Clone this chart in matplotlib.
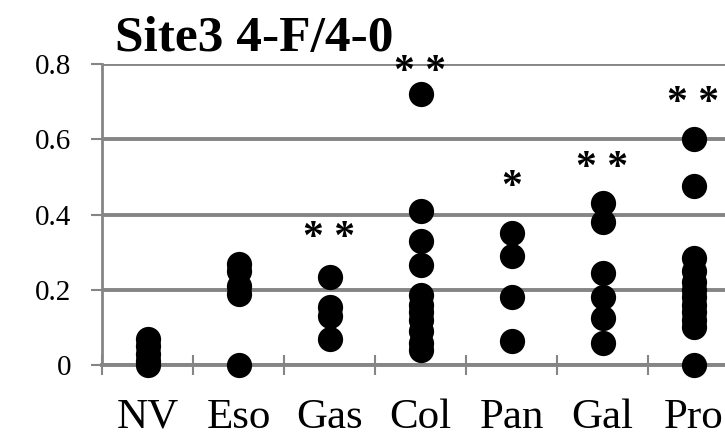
import matplotlib
matplotlib.use("Agg")
import matplotlib.pyplot as plt
import numpy as np

# -------------------------
# データ
# -------------------------
categories = ["NV", "Eso", "Gas", "Col", "Pan", "Gal", "Pro"]
nv = [0, 0.01, 0.03, 0.05, 0.07]
eso = [0, 0.19, 0.21, 0.25, 0.27]
gas = [0.07, 0.13, 0.155, 0.235]
col = [0.04, 0.06, 0.09, 0.12, 0.14, 0.16, 0.185, 0.265, 0.33, 0.41, 0.72]
pan = [0.065, 0.18, 0.29, 0.35]
gal = [0.06, 0.125, 0.18, 0.245, 0.38, 0.43]
pro = [0, 0.10, 0.12, 0.14, 0.16, 0.18, 0.20, 0.22, 0.25, 0.285, 0.475, 0.60]
groups = [nv, eso, gas, col, pan, gal, pro]
stars = ["", "", "* *", "* *", "*", "* *", "* *"]
star_y = [None, None, 0.335, 0.775, 0.47, 0.52, 0.695]
yticks = [0, 0.2, 0.4, 0.6, 0.8]
ytick_labels = ["0", "0.2", "0.4", "0.6", "0.8"]

# -------------------------
# 描画
# -------------------------
plt.rcParams["font.family"] = ["Liberation Serif", "DejaVu Serif"]
grey = "#858585"

fig = plt.figure(figsize=(7.25, 4.42), dpi=100)
ax = fig.add_axes([0.1407, 0.174, 0.8593, 0.681])

for i, vals in enumerate(groups):
    ax.scatter([i + 0.5] * len(vals), vals, s=330, color="black",
               zorder=3, clip_on=False, linewidths=0)
    if stars[i]:
        ax.text(i + 0.5, star_y[i], stars[i], ha="center", va="center",
                fontsize=30, fontweight="bold", zorder=4)

ax.set_xlim(0, 6.846)
ax.set_ylim(0, 0.8)
ax.set_yticks(yticks)
ax.set_yticklabels(ytick_labels, fontsize=21)
ax.set_xticks(np.arange(0, 7))
ax.set_xticklabels([])
ax.set_xticks(np.arange(len(categories)) + 0.5, minor=True)
ax.set_xticklabels(categories, minor=True, fontsize=31)
ax.tick_params(axis="x", which="minor", length=0, pad=24)
ax.tick_params(axis="x", which="major", direction="inout", length=14,
               color=grey, width=1.5)
ax.tick_params(axis="y", direction="out", length=8, color=grey, width=1.5, pad=14)

ax.grid(axis="y", color=grey, linewidth=2.8, zorder=1)
ax.set_axisbelow(True)
for side in ["top", "right"]:
    ax.spines[side].set_visible(False)
ax.spines["left"].set_color(grey)
ax.spines["left"].set_linewidth(2)
ax.spines["bottom"].set_color(grey)
ax.spines["bottom"].set_linewidth(2.8)

fig.text(0.159, 0.86, "Site3 4-F/4-0", fontsize=37, fontweight="bold",
         ha="left", va="bottom")

fig.savefig("out.png", dpi=100)
